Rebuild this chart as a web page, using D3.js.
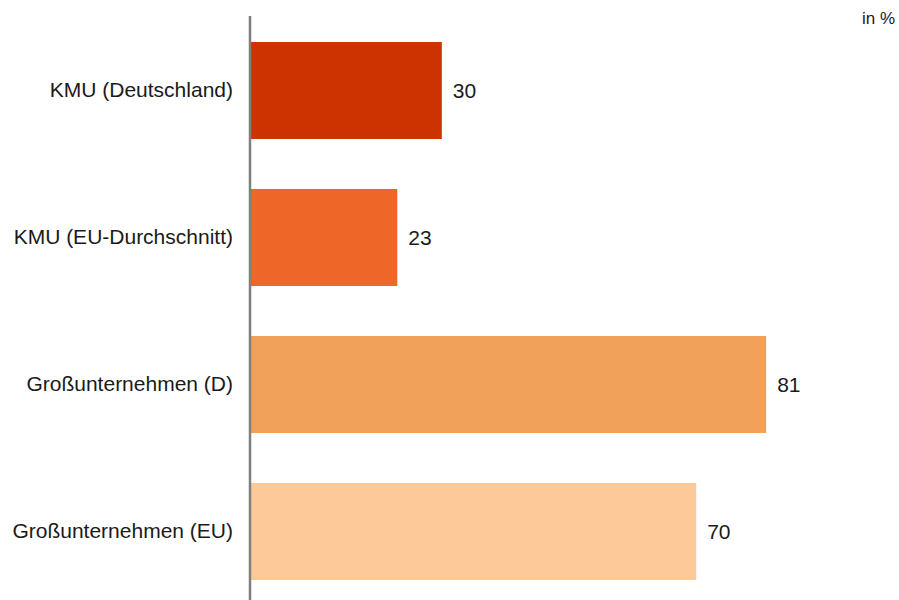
<!DOCTYPE html>
<html>
<head>
<meta charset="utf-8">
<script src="https://cdn.jsdelivr.net/npm/d3@7"></script>
<style>
  body { margin: 0; background: #fff; }
  text { font-family: "Liberation Sans", Arial, sans-serif; fill: #1a1a1a; }
</style>
</head>
<body>
<div id="chart"></div>
<script>
const categories = ["KMU (Deutschland)", "KMU (EU-Durchschnitt)", "Großunternehmen (D)", "Großunternehmen (EU)"];
const values = [30, 23, 81, 70];
const colors = ["#cc3300", "#ee6628", "#f2a15a", "#fdc999"];
const unitLabel = "in %";

const width = 899, height = 600;
const svg = d3.select("#chart").append("svg")
  .attr("width", width)
  .attr("height", height);

const x = d3.scaleLinear().domain([0, 100]).range([251, 887]);
const y = d3.scaleBand()
  .domain(categories)
  .range([17, 605])
  .paddingInner(0.34)
  .paddingOuter(0.17);

// bars
svg.selectAll(".bar")
  .data(categories)
  .join("rect")
  .attr("class", "bar")
  .attr("x", x(0))
  .attr("y", d => y(d))
  .attr("width", (d, i) => x(values[i]) - x(0))
  .attr("height", y.bandwidth())
  .attr("fill", (d, i) => colors[i]);

// value labels
svg.selectAll(".val")
  .data(categories)
  .join("text")
  .attr("class", "val")
  .attr("x", (d, i) => x(values[i]) + 11)
  .attr("y", d => y(d) + y.bandwidth() / 2)
  .attr("dy", "0.35em")
  .style("font-size", "21px")
  .text((d, i) => values[i]);

// category axis
const yAxis = d3.axisLeft(y).tickSize(0).tickPadding(17);
const ag = svg.append("g")
  .attr("transform", `translate(${x(0) - 1},0)`)
  .call(yAxis);
ag.select(".domain").remove();
ag.selectAll("text")
  .style("font-size", "21px")
  .style("font-family", '"Liberation Sans", Arial, sans-serif')
  .attr("fill", "#1a1a1a");

svg.append("line")
  .attr("x1", x(0) - 1).attr("x2", x(0) - 1)
  .attr("y1", 16).attr("y2", height)
  .attr("stroke", "#7f7f7f")
  .attr("stroke-width", 2.5);

svg.append("text")
  .attr("x", 895)
  .attr("y", 24)
  .attr("text-anchor", "end")
  .style("font-size", "17px")
  .text(unitLabel);
</script>
</body>
</html>
